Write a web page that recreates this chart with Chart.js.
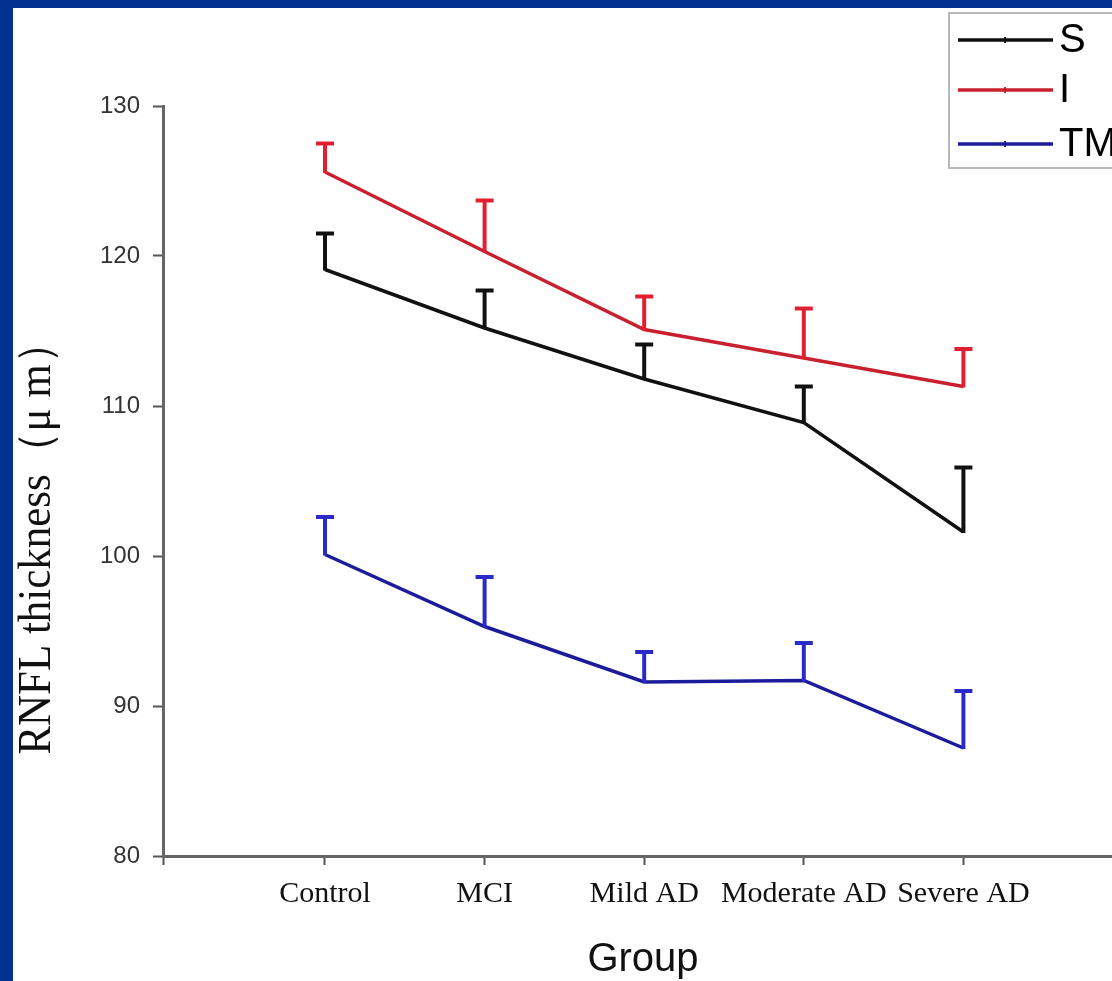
<!DOCTYPE html>
<html><head><meta charset="utf-8">
<script src="https://cdn.jsdelivr.net/npm/chart.js@4/dist/chart.umd.min.js"></script>
<style>
html,body{margin:0;padding:0;width:1112px;height:981px;overflow:hidden;background:#01318f}
#wrap{position:absolute;left:13px;top:8px;width:1099px;height:973px;background:#fff}
canvas{display:block}
</style></head><body>
<div id="wrap"><canvas id="c" width="1099" height="973"></canvas></div>
<script>
const categories = ['Control', 'MCI', 'Mild AD', 'Moderate AD', 'Severe AD'];
const seriesNames = ['S', 'I', 'TM'];
const sMean  = [119.1, 115.2, 111.8, 108.9, 101.6];
const sUpper = [121.5, 117.7, 114.1, 111.3, 105.9];
const iMean  = [125.6, 120.3, 115.1, 113.2, 111.3];
const iUpper = [127.5, 123.7, 117.3, 116.5, 113.8];
const tmMean  = [100.1, 95.3, 91.6, 91.7, 87.2];
const tmUpper = [102.6, 98.6, 93.6, 94.2, 91.0];
const yTicks = [80, 90, 100, 110, 120, 130];
const yTitle = 'RNFL thickness（μ m）';
const xTitle = 'Group';

const XMIN = -0.015, XMAX = 5.931;

function mk(label, mean, upper, color, errColor) {
  return {
    label, upper, errColor,
    data: categories.map((c, i) => ({ x: i + 1, y: mean[i] })),
    borderColor: color, backgroundColor: color, borderWidth: 3.5,
    pointRadius: 0, tension: 0, fill: false
  };
}

const errorBars = {
  id: 'errorBars',
  afterDatasetsDraw(chart) {
    const ctx = chart.ctx, xs = chart.scales.x, ys = chart.scales.y;
    chart.data.datasets.forEach(ds => {
      ctx.save();
      ctx.strokeStyle = ds.errColor; ctx.lineWidth = 4; ctx.lineCap = 'butt';
      ds.data.forEach((p, j) => {
        const px = xs.getPixelForValue(p.x), py = ys.getPixelForValue(p.y), pu = ys.getPixelForValue(ds.upper[j]);
        ctx.beginPath(); ctx.moveTo(px, py + 1); ctx.lineTo(px, pu); ctx.stroke();
        ctx.beginPath(); ctx.moveTo(px - 9, pu); ctx.lineTo(px + 9, pu); ctx.stroke();
      });
      ctx.restore();
    });
  }
};

const extras = {
  id: 'extras',
  afterDraw(chart) {
    const ctx = chart.ctx;
    ctx.save();
    // legend box
    ctx.strokeStyle = '#b8b8b8'; ctx.lineWidth = 2;
    ctx.strokeRect(936, 5, 200, 155);
    const ys = [32, 82, 136];
    chart.data.datasets.forEach((ds, i) => {
      ctx.strokeStyle = ds.borderColor; ctx.lineWidth = 3.5;
      ctx.beginPath(); ctx.moveTo(945, ys[i]); ctx.lineTo(1040, ys[i]); ctx.stroke();
      ctx.lineWidth = 2;
      ctx.beginPath(); ctx.moveTo(992, ys[i] - 3); ctx.lineTo(992, ys[i] + 3); ctx.stroke();
      ctx.fillStyle = '#000'; ctx.font = '40px "Liberation Sans", Arial, sans-serif';
      ctx.textBaseline = 'middle'; ctx.textAlign = 'left';
      ctx.fillText(ds.label, 1046, ys[i] + 1);
    });
    // axis titles
    ctx.fillStyle = '#111';
    ctx.font = '40px "Liberation Sans", Arial, sans-serif';
    ctx.textAlign = 'center'; ctx.textBaseline = 'middle';
    ctx.fillText(xTitle, 630, 952, 112);
    ctx.translate(25, 530); ctx.rotate(-Math.PI / 2);
    ctx.font = '46px "Liberation Serif", "Times New Roman", serif';
    ctx.fillText(yTitle, 0, 0, 433);
    ctx.restore();
  }
};

new Chart(document.getElementById('c'), {
  type: 'line',
  data: {
    datasets: [
      mk(seriesNames[0], sMean, sUpper, '#111111', '#111111'),
      mk(seriesNames[1], iMean, iUpper, '#c8202e', '#e02030'),
      mk(seriesNames[2], tmMean, tmUpper, '#1c1c9a', '#2a2ac8')
    ]
  },
  options: {
    responsive: false, animation: false, devicePixelRatio: 1,
    layout: { padding: { top: 98, right: 0, bottom: 0, left: 0 } },
    plugins: { legend: { display: false }, tooltip: { enabled: false } },
    scales: {
      x: {
        type: 'linear', min: XMIN, max: XMAX,
        afterBuildTicks: s => { s.ticks = [{ value: XMIN }].concat(categories.map((c, i) => ({ value: i + 1 }))); },
        afterFit: s => { s.height = 125; },
        ticks: {
          autoSkip: false, maxRotation: 0, minRotation: 0, padding: 11,
          color: '#111', font: { family: '"Liberation Serif", "Times New Roman", serif', size: 30 },
          callback: v => (v > 0.5 ? categories[Math.round(v) - 1] : '')
        },
        grid: { drawOnChartArea: false, drawTicks: true, tickLength: 9, tickColor: '#555', tickWidth: 2 },
        border: { display: true, color: '#666', width: 3 }
      },
      y: {
        min: 80, max: 130,
        afterBuildTicks: s => { s.ticks = yTicks.map(v => ({ value: v })); },
        afterFit: s => { s.width = 150; },
        ticks: {
          padding: 13, color: '#333',
          font: { family: '"Liberation Sans", Arial, sans-serif', size: 24 }
        },
        grid: { drawOnChartArea: false, drawTicks: true, tickLength: 10, tickColor: '#555', tickWidth: 2 },
        border: { display: true, color: '#666', width: 3 }
      }
    }
  },
  plugins: [errorBars, extras]
});
</script>
</body></html>
